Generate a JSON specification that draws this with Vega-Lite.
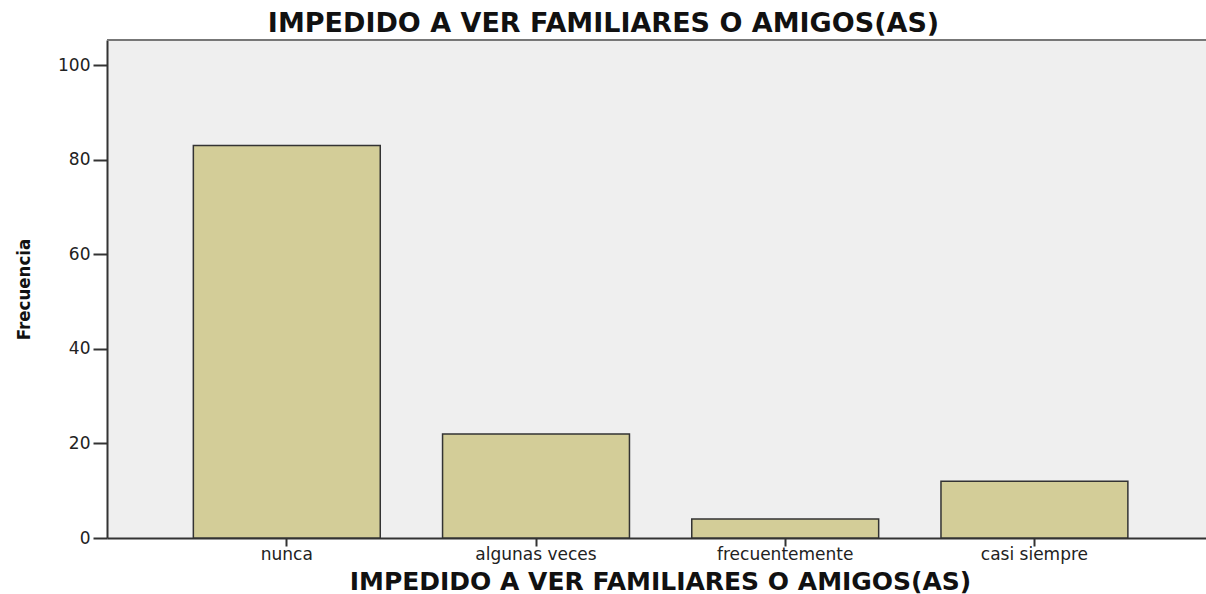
{
  "$schema": "https://vega.github.io/schema/vega-lite/v6.json",
  "autosize": "none",
  "width": 1099,
  "height": 498,
  "padding": {"left": 107, "top": 40, "right": 0, "bottom": 56},
  "background": "white",
  "title": {
    "text": "IMPEDIDO A VER FAMILIARES O AMIGOS(AS)",
    "font": "DejaVu Sans",
    "fontSize": 27,
    "fontWeight": "bold",
    "color": "#111111",
    "anchor": "middle",
    "dx": -53,
    "offset": 1
  },
  "config": {
    "view": {"fill": "#efefef", "stroke": null},
    "axis": {
      "labelFont": "DejaVu Sans",
      "labelFontSize": 17,
      "labelColor": "#222222",
      "titleFont": "DejaVu Sans",
      "titleFontWeight": "bold",
      "titleColor": "#111111",
      "domainColor": "#333333",
      "domainWidth": 2,
      "tickColor": "#333333",
      "tickWidth": 2,
      "grid": false
    }
  },
  "data": {
    "values": [
      {"categoria": "nunca", "frecuencia": 83},
      {"categoria": "algunas veces", "frecuencia": 22},
      {"categoria": "frecuentemente", "frecuencia": 4},
      {"categoria": "casi siempre", "frecuencia": 12}
    ]
  },
  "layer": [
    {
      "mark": {"type": "bar", "fill": "#d3cd98", "stroke": "#333333", "strokeWidth": 1.5},
      "encoding": {
        "x": {
          "field": "categoria",
          "type": "nominal",
          "sort": ["nunca", "algunas veces", "frecuentemente", "casi siempre"],
          "scale": {"paddingInner": 0.25, "paddingOuter": 0.33, "align": 0.525},
          "axis": {
            "title": "IMPEDIDO A VER FAMILIARES O AMIGOS(AS)",
            "titleFontSize": 25,
            "titlePadding": 7,
            "titleX": 553,
            "labelAngle": 0,
            "tickSize": 8,
            "labelPadding": 0
          }
        },
        "y": {
          "field": "frecuencia",
          "type": "quantitative",
          "scale": {"domain": [0, 105.3], "nice": false},
          "axis": {
            "title": "Frecuencia",
            "titleFont": "Liberation Sans Narrow, DejaVu Sans Condensed, DejaVu Sans",
            "titleFontSize": 18.5,
            "titlePadding": 24,
            "values": [0, 20, 40, 60, 80, 100],
            "tickSize": 14,
            "labelPadding": 3
          }
        }
      }
    },
    {
      "mark": {"type": "rule", "stroke": "#777777", "strokeWidth": 1.5},
      "encoding": {
        "y": {"datum": 105.3}
      }
    }
  ]
}
